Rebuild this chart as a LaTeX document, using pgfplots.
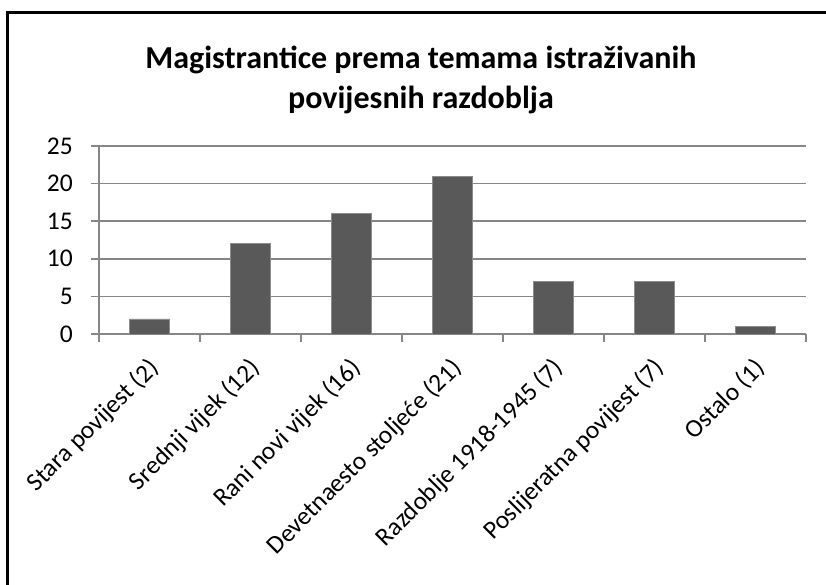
\documentclass[border=0pt]{standalone}
\usepackage{pgfplots}
\pgfplotsset{compat=1.18}
\usepackage{fontspec}
\setmainfont{Carlito}
\definecolor{barfill}{HTML}{595959}
\definecolor{bardraw}{HTML}{8C8C8C}
\definecolor{gridc}{HTML}{868686}
\begin{document}
\begin{tikzpicture}[x=1bp,y=1bp]
\useasboundingbox (0,0) rectangle (826,585);
\draw[line width=3bp, line join=miter] (7.5,-20) -- (7.5,572.5) -- (850,572.5);
\node[font=\fontsize{32bp}{40bp}\selectfont\bfseries, align=center] at (421,505) {Magistrantice prema temama istraživanih\\povijesnih razdoblja};
\begin{axis}[at={(99bp,251bp)}, anchor=south west, scale only axis,
  width=707bp, height=188bp,
  ymin=0, ymax=25, xmin=-0.5, xmax=6.5,
  ytick={0,5,...,25},
  xtick={0,...,6},
  xticklabels={Stara povijest (2),Srednji vijek (12),Rani novi vijek (16),Devetnaesto stoljeće (21),Razdoblje 1918-1945 (7),Poslijeratna povijest (7),Ostalo (1)},
  minor xtick={-0.5,0.5,...,6.5},
  axis x line*=bottom, axis y line*=left,
  ymajorgrids,
  grid style={gridc, line width=1.5bp},
  axis line style={gridc, line width=1.5bp},
  tick align=outside,
  major tick length=8bp, minor tick length=8bp,
  major x tick style={draw=none},
  minor x tick style={gridc, line width=1.5bp},
  ytick style={gridc, line width=1.5bp},
  tick label style={font=\fontsize{25.5bp}{30bp}\selectfont},
  /pgf/number format/assume math mode=true,
  yticklabel style={inner sep=0pt, xshift=-18bp, anchor=east},
  xticklabel style={anchor=north east, inner sep=0pt, xshift=-3bp, yshift=-14bp, rotate=45},
  ybar, bar width=40bp,
]
\addplot[fill=barfill, draw=bardraw, line width=0.8bp] coordinates {(0,2) (1,12) (2,16) (3,21) (4,7) (5,7) (6,1)};
\end{axis}
\end{tikzpicture}
\end{document}
